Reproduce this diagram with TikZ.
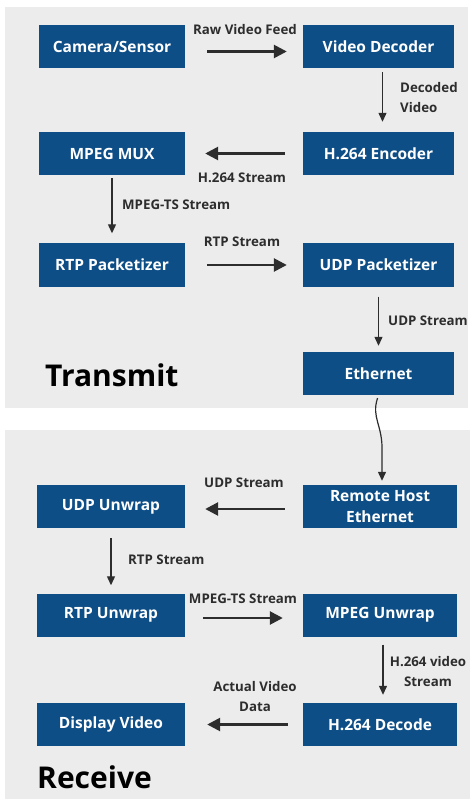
\documentclass[tikz,border=0pt]{standalone}
\usepackage{fontspec}
\setmainfont{Open Sans}
\usetikzlibrary{arrows.meta}

\definecolor{boxblue}{RGB}{14,78,134}
\definecolor{panelgray}{RGB}{236,236,236}
\definecolor{arrowgray}{RGB}{45,45,45}

\begin{document}
\begin{tikzpicture}[x=1pt, y=-1pt,
    block/.style={fill=boxblue, text=white, font=\bfseries\fontsize{15.5}{21}\selectfont,
        minimum height=43pt, align=center, inner sep=0pt},
    flow/.style={arrowgray, line width=2.6pt, -{Triangle[length=13pt,width=13pt]}},
    down/.style={arrowgray, line width=1.2pt, -{Triangle[length=9pt,width=8pt]}},
    lbl/.style={font=\bfseries\fontsize{13.3}{20}\selectfont, text=arrowgray, align=center, inner sep=0pt},
    title/.style={font=\bfseries\fontsize{30}{33}\selectfont, inner sep=0pt, anchor=west}]
    \useasboundingbox[fill=white] (0,0) rectangle (474,799);

    % Panels
    \fill[panelgray] (5,7) rectangle (468,408);
    \fill[panelgray] (5,430) rectangle (470,799);

    % Transmit side
    \node[block, minimum width=146pt] (cam) at (112,46.5) {Camera/Sensor};
    \node[block, minimum width=151pt] (vdec) at (378.5,46.5) {Video Decoder};
    \node[block, minimum width=146pt] (mux) at (112,153.5) {MPEG MUX};
    \node[block, minimum width=151pt] (enc) at (378.5,153.5) {H.264 Encoder};
    \node[block, minimum width=146pt] (rtp) at (112,265) {RTP Packetizer};
    \node[block, minimum width=151pt] (udp) at (378.5,265) {UDP Packetizer};
    \node[block, minimum width=151pt] (eth) at (378.5,373.5) {Ethernet};
    \node[title] (tx) at (45,375) {Transmit};

    \draw[flow, shorten <=22pt, shorten >=16pt] ([yshift=-5pt]cam.east) -- ([yshift=-5pt]vdec.west);
    \node[lbl] (rawfeed) at (245,30) {Raw Video Feed};
    \draw[down, shorten <=4pt, shorten >=10pt] ([xshift=4pt]vdec.south) -- ([xshift=4pt]enc.north);
    \node[lbl, anchor=west, align=left] (decvid) at (400,98) {Decoded\\Video};
    \draw[flow, shorten <=18pt, shorten >=20pt] (enc.west) -- (mux.east);
    \node[lbl] (h264str) at (242,178) {H.264 Stream};
    \draw[down, shorten <=3pt, shorten >=10pt] (mux.south) -- (rtp.north);
    \node[lbl, anchor=west] (tsstr) at (122,205) {MPEG-TS Stream};
    \draw[flow, shorten <=22pt, shorten >=16pt] (rtp.east) -- (udp.west);
    \node[lbl] (rtpstr) at (242,242) {RTP Stream};
    \draw[down, shorten <=10pt, shorten >=6pt] (udp.south) -- (eth.north);
    \node[lbl, anchor=west] (udpstr) at (388,321) {UDP Stream};

    % Receive side
    \node[block, minimum width=154pt] (host) at (380,506.5) {Remote Host\\Ethernet};
    \node[block, minimum width=148pt] (udpun) at (111,506.5) {UDP Unwrap};
    \node[block, minimum width=148pt] (rtpun) at (111,615) {RTP Unwrap};
    \node[block, minimum width=154pt] (mpegun) at (380,615) {MPEG Unwrap};
    \node[block, minimum width=148pt] (disp) at (111,724.5) {Display Video};
    \node[block, minimum width=154pt] (dec) at (380,724.5) {H.264 Decode};
    \node[title] (rx) at (37,777) {Receive};

    \coordinate (wave) at (382,452);
    \draw[down, shorten <=3pt, shorten >=4pt] (eth.south) .. controls (371,418) and (383,425) .. (wave) -- ([xshift=2pt]host.north);
    \draw[flow, shorten <=18pt, shorten >=20pt] ([yshift=-2.5pt]host.west) -- ([yshift=-2.5pt]udpun.east);
    \node[lbl] (udpstr2) at (244,483) {UDP Stream};
    \draw[down, shorten <=10pt, shorten >=8pt] (udpun.south) -- (rtpun.north);
    \node[lbl, anchor=west] (rtpstr2) at (128,560) {RTP Stream};
    \draw[flow, shorten <=18pt, shorten >=20pt] ([yshift=-3pt]rtpun.east) -- ([yshift=-3pt]mpegun.west);
    \node[lbl] (tsstr2) at (243,599) {MPEG-TS Stream};
    \draw[down, shorten <=8pt, shorten >=8pt] ([xshift=3pt]mpegun.south) -- ([xshift=3pt]dec.north);
    \node[lbl] (h264vid) at (428,672) {H.264 video\\Stream};
    \draw[flow, shorten <=15pt, shorten >=22pt] (dec.west) -- (disp.east);
    \node[lbl] (actual) at (255,697) {Actual Video\\Data};
\end{tikzpicture}
\end{document}
